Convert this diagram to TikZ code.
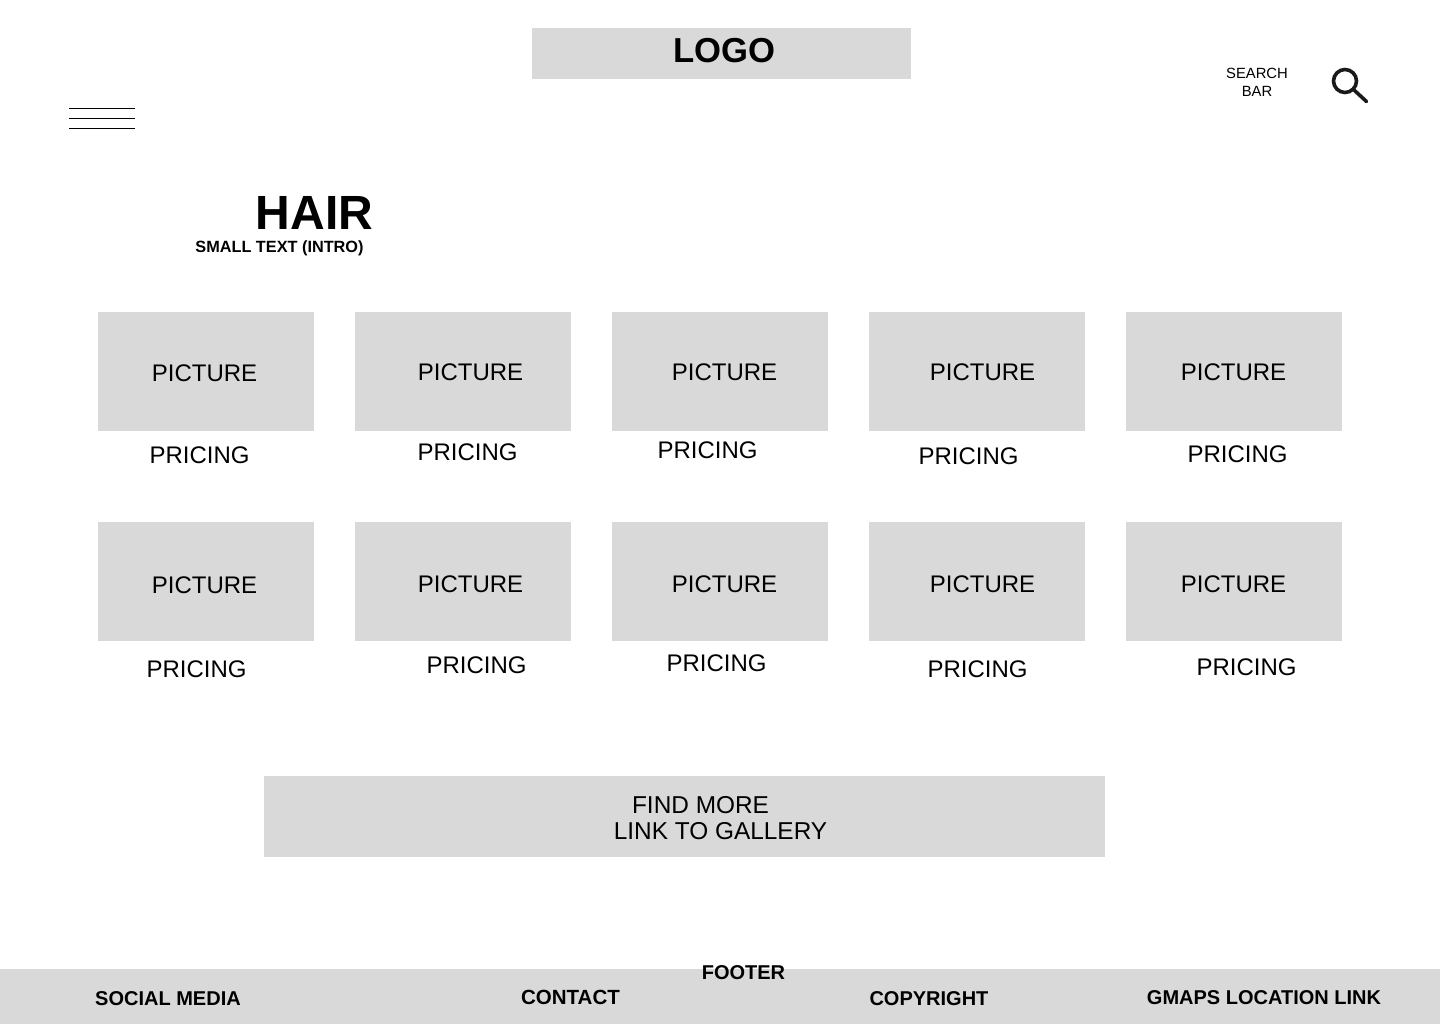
\documentclass[tikz,border=0pt]{standalone}
\usepackage{fontspec}
\setmainfont{Liberation Sans}
\usepackage{xcolor}
\usetikzlibrary{positioning}
\definecolor{BoxGray}{HTML}{D9D9D9}
\definecolor{IconBlack}{HTML}{1A1A1A}
\tikzset{
  grayfill/.style={fill=BoxGray, draw=none, inner sep=0pt, anchor=north west},
  cardbox/.style={grayfill, minimum width=162pt, minimum height=89.25pt},
  cardtext/.style={inner sep=0pt, anchor=base, xshift=0.4pt, yshift=0.75pt, font=\fontsize{18pt}{18pt}\selectfont},
  findtext/.style={cardtext, font=\fontsize{18.3pt}{18.3pt}\selectfont},
  footertext/.style={inner sep=0pt, anchor=base, font=\fontsize{15pt}{15pt}\selectfont\bfseries},
  menuline/.style={draw=black, line width=0.75pt},
}
\begin{document}
\begin{tikzpicture}[x=0.75pt, y=-0.75pt]
  \useasboundingbox (0,0) rectangle (1440,1024);
  % header
  \node[grayfill, minimum width=284.25pt, minimum height=38.25pt] (logobox) at (532,28) {};
  \node[inner sep=0pt, anchor=base, font=\fontsize{26pt}{26pt}\selectfont\bfseries] (logo) at (724.5,63) {LOGO};
  \node[inner sep=0pt, align=center, font=\fontsize{11.1pt}{13.5pt}\selectfont] (search) at (1257,82.5) {SEARCH\\BAR};
  \foreach \y in {108.5,118.5,128.5}{
    \draw[menuline] (69,\y) -- (135,\y);
  }
  \draw[IconBlack, line width=2.7pt] (1345,81) circle (11.5);
  \draw[IconBlack, line width=2.7pt, line cap=round] (1354,90) -- (1366.5,101.5);
  % title
  \node[inner sep=0pt, anchor=base, font=\fontsize{36pt}{36pt}\selectfont\bfseries] (hair) at (314.5,229) {HAIR};
  \node[inner sep=0pt, anchor=base, font=\fontsize{12.2pt}{12.2pt}\selectfont\bfseries] (intro) at (279.5,252) {SMALL TEXT (INTRO)};
  % cards
  \foreach \i/\x/\picx/\picy/\prx/\pry in {
    1/98/204/382/199/464,
    2/355/470/381/467/461,
    3/612/724/381/707/459,
    4/869/982/381/968/465,
    5/1126/1233/381/1237/463
  }{
    \node[cardbox] (pica\i) at (\x,312) {};
    \node[cardtext] (pictexta\i) at (\picx,\picy) {PICTURE};
    \node[cardtext] (pricea\i) at (\prx,\pry) {PRICING};
  }
  \foreach \i/\x/\picx/\picy/\prx/\pry in {
    1/98/204/594/196/678,
    2/355/470/593/476/674,
    3/612/724/593/716/672,
    4/869/982/593/977/678,
    5/1126/1233/593/1246/676
  }{
    \node[cardbox] (picb\i) at (\x,522) {};
    \node[cardtext] (pictextb\i) at (\picx,\picy) {PICTURE};
    \node[cardtext] (priceb\i) at (\prx,\pry) {PRICING};
  }
  % gallery link
  \node[grayfill, minimum width=630.75pt, minimum height=60.75pt] (findbox) at (264,776) {};
  \node[findtext] (findmore) at (700,814) {FIND MORE};
  \node[findtext] (gallery) at (720,840) {LINK TO GALLERY};
  % footer
  \node[grayfill, minimum width=1080pt, minimum height=41.25pt] (footerbar) at (0,969) {};
  \node[footertext] (footer) at (743.5,979) {FOOTER};
  \node[footertext] (social) at (168,1005) {SOCIAL MEDIA};
  \node[footertext, font=\fontsize{15.4pt}{15.4pt}\selectfont\bfseries] (contact) at (570.5,1004) {CONTACT};
  \node[footertext] (copyright) at (929,1005) {COPYRIGHT};
  \node[footertext] (gmaps) at (1264,1004) {GMAPS LOCATION LINK};
\end{tikzpicture}
\end{document}
